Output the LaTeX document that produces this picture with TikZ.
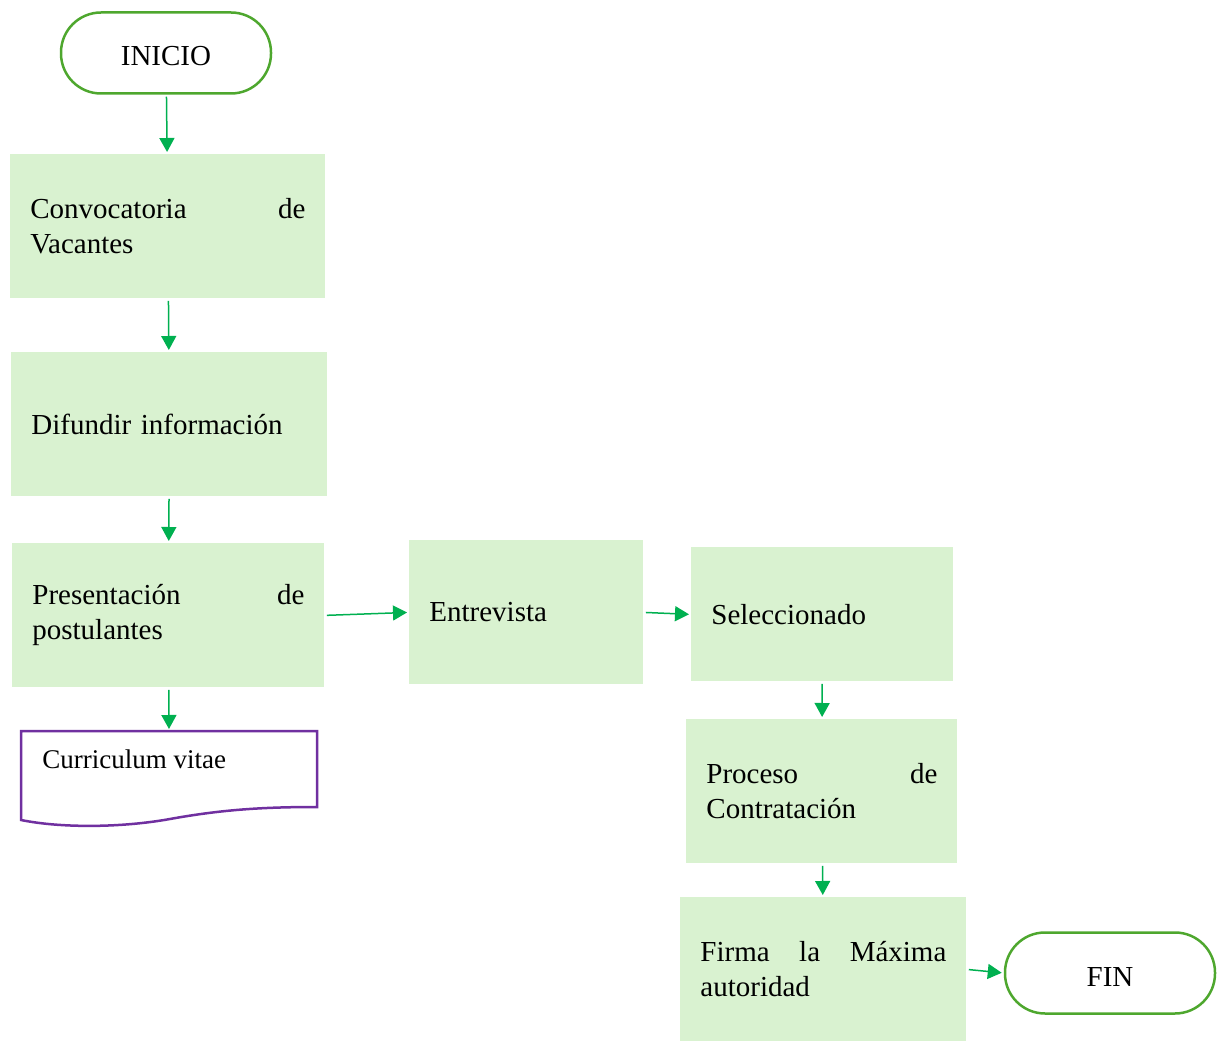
\documentclass[tikz,border=0pt]{standalone}
\usepackage{fontspec}
\setmainfont{Liberation Serif}
\usetikzlibrary{arrows.meta}
\definecolor{stepfill}{RGB}{217,242,208}
\definecolor{termgreen}{RGB}{78,167,46}
\definecolor{arrowgreen}{RGB}{0,176,80}
\definecolor{docpurple}{RGB}{112,48,160}

\begin{document}
\begin{tikzpicture}[x=0.5pt,y=-0.5pt,
  procbox/.style={fill=stepfill, anchor=north west, inner xsep=10pt, inner ysep=0pt,
    align=left, minimum height=72pt, font=\fontsize{14.5}{17.5}\selectfont},
  termbox/.style={draw=termgreen, line width=1.25pt, rounded corners=20pt,
    minimum width=105pt, minimum height=40.5pt, text height=13pt, text depth=0pt,
    font=\fontsize{14.5}{17.5}\selectfont},
  flow/.style={draw=arrowgreen, line width=0.75pt,
    -{Triangle[length=7pt,width=7.5pt]}, shorten <=1pt, shorten >=1pt}]
\useasboundingbox (0,0) rectangle (1226,1042);

% Start and end
\node[termbox] (inicio) at (166,53) {INICIO};
\node[termbox] (fin) at (1110,973) {FIN};

% Process steps
\node[procbox, text width=137.5pt] (conv) at (10,154) {Convocatoria \hfill de\\Vacantes};
\node[procbox, text width=138pt] (difu) at (11,352) {Difundir información};
\node[procbox, text width=136pt] (pres) at (12,543) {Presentación \hfill de\\postulantes};
\node[procbox, text width=97pt] (entr) at (409,540) {Entrevista};
\node[procbox, text width=111pt, minimum height=67pt] (sele) at (691,547) {Seleccionado};
\node[procbox, text width=115.5pt] (proc) at (686,719) {Proceso \hfill de\\Contratación};
\node[procbox, text width=123pt] (firm) at (680,897) {Firma \hfill la \hfill Máxima\\autoridad};

% Document
\draw[docpurple, line width=1.25pt] (21,731) -- (317,731) -- (317,807)
  .. controls (260,807) and (220,810) .. (170,819)
  .. controls (120,828) and (60,828) .. (21,820) -- cycle;
\coordinate (cv) at (169,731);
\node[anchor=base west, inner sep=0pt, font=\fontsize{13.5}{16}\selectfont] (cvtext) at (42,768) {Curriculum vitae};

% Flow
\draw[flow] (inicio) -- (conv);
\draw[flow] (conv) -- (difu);
\draw[flow] (difu) -- (pres);
\draw[flow] (pres) -- (cv);
\draw[flow] (pres.east) -- (entr.west);
\draw[flow] (entr.east) -- (sele.west);
\draw[flow] (sele) -- (proc);
\draw[flow] (proc) -- (firm);
\draw[flow] (firm.east) -- (fin.west);
\end{tikzpicture}
\end{document}
